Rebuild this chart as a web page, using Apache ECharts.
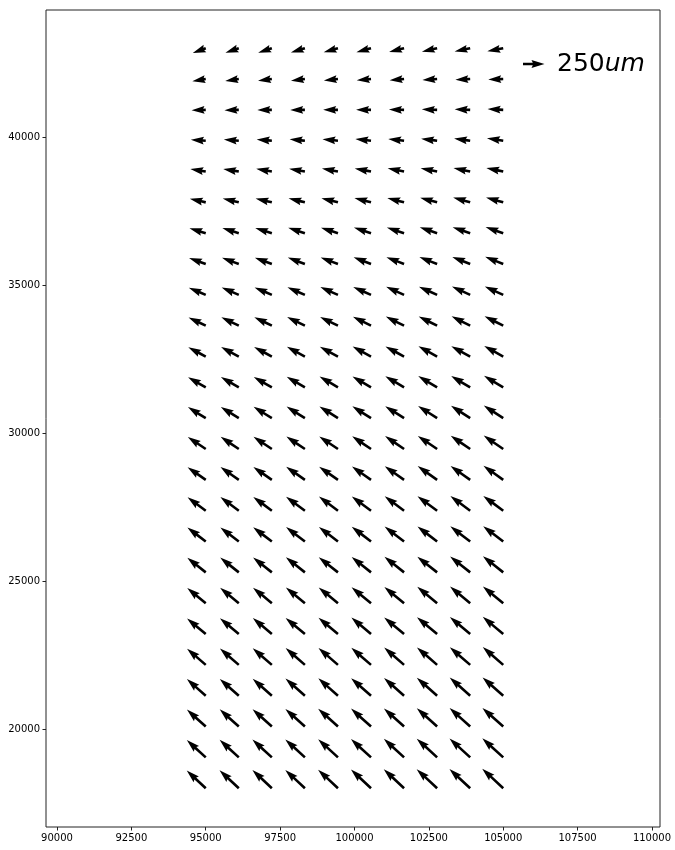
<!DOCTYPE html>
<html>
<head>
<meta charset="utf-8">
<script src="https://cdn.jsdelivr.net/npm/echarts@6/dist/echarts.min.js"></script>
<style>html,body{margin:0;padding:0;background:#fff;}#c{width:675px;height:850px;}</style>
</head>
<body>
<div id="c"></div>
<script>
// grid point coordinates
const xCols = [95000, 96111.1, 97222.2, 98333.3, 99444.4, 100555.6, 101666.7, 102777.8, 103888.9, 105000];
const yRows = [18000, 19041.7, 20083.3, 21125, 22166.7, 23208.3, 24250, 25291.7, 26333.3, 27375,
  28416.7, 29458.3, 30500, 31541.7, 32583.3, 33625, 34666.7, 35708.3, 36750, 37791.7,
  38833.3, 39875, 40916.7, 41958.3, 43000];
// east component (um), one row per yRows entry, bottom to top
const U = [
  [-221,-224,-226,-228,-231,-233,-236,-238,-241,-244],
  [-220,-223,-226,-228,-230,-233,-235,-237,-240,-243],
  [-219,-222,-224,-227,-230,-232,-234,-236,-239,-242],
  [-219,-221,-223,-226,-228,-231,-233,-236,-238,-240],
  [-217,-219,-222,-224,-226,-229,-231,-234,-236,-238],
  [-217,-219,-221,-224,-226,-228,-231,-234,-236,-238],
  [-215,-217,-219,-221,-224,-226,-229,-231,-234,-236],
  [-214,-216,-218,-221,-223,-225,-228,-230,-233,-236],
  [-213,-214,-217,-219,-221,-224,-226,-228,-231,-233],
  [-211,-214,-216,-219,-221,-223,-225,-228,-230,-232],
  [-211,-213,-215,-218,-219,-221,-224,-226,-228,-230],
  [-208,-211,-213,-215,-217,-219,-221,-224,-226,-227],
  [-207,-209,-212,-213,-215,-217,-219,-221,-223,-226],
  [-205,-208,-210,-211,-214,-215,-218,-220,-221,-224],
  [-203,-206,-207,-209,-211,-214,-216,-217,-220,-221],
  [-200,-203,-204,-207,-208,-210,-212,-214,-216,-217],
  [-197,-199,-201,-203,-205,-207,-208,-211,-212,-214],
  [-194,-195,-197,-199,-201,-202,-205,-206,-208,-210],
  [-189,-191,-193,-194,-197,-199,-200,-202,-204,-205],
  [-185,-187,-189,-190,-192,-193,-195,-197,-198,-200],
  [-179,-181,-182,-184,-186,-189,-191,-192,-194,-196],
  [-173,-174,-176,-178,-180,-182,-184,-186,-187,-189],
  [-165,-167,-169,-171,-172,-174,-176,-178,-180,-182],
  [-156,-158,-161,-162,-164,-166,-168,-171,-172,-174],
  [-151,-155,-159,-163,-166,-170,-174,-177,-181,-185]
];
// north component (um)
const V = [
  [206,209,211,213,216,218,220,222,224,227],
  [202,204,207,209,211,213,216,218,220,222],
  [197,200,202,204,207,209,211,213,215,217],
  [193,195,197,200,202,204,206,209,211,213],
  [188,190,193,195,197,199,201,203,205,207],
  [182,184,186,188,190,192,193,196,198,200],
  [177,179,181,183,184,186,189,191,193,195],
  [170,172,174,176,177,179,181,183,186,187],
  [163,164,166,168,170,172,174,175,177,179],
  [156,158,160,162,164,165,167,168,170,172],
  [147,149,151,153,154,156,158,160,162,164],
  [140,142,144,146,147,149,151,153,155,156],
  [129,131,133,135,137,139,140,143,144,147],
  [119,120,122,124,126,127,129,131,132,134],
  [108,110,111,113,114,116,118,120,121,123],
  [96,97,99,101,102,104,106,107,109,111],
  [84,85,87,88,90,91,93,94,96,98],
  [70,72,73,75,77,78,80,81,83,85],
  [58,59,61,62,64,65,66,68,69,71],
  [43,44,46,47,49,51,52,54,56,57],
  [28,30,31,33,34,36,37,38,40,42],
  [12,13,15,17,18,20,21,23,25,27],
  [-6,-4,-3,-1,1,2,4,6,8,9],
  [-25,-23,-21,-19,-17,-15,-13,-11,-8,-6],
  [-55,-53,-52,-50,-48,-46,-43,-41,-38,-36]
];
const xTicks = [90000, 92500, 95000, 97500, 100000, 102500, 105000, 107500, 110000];
const yTicks = [20000, 25000, 30000, 35000, 40000];
const keyValue = 250;
const keyUnit = 'um';

const pxPerUm = 21.5 / 250;
const SHAFT = 2.6;

function arrowPts(x0, y0, dx, dy) {
  const L = Math.hypot(dx, dy);
  if (L < 1e-6) return [[x0, y0]];
  let w = SHAFT, hl = 5 * w, hal = 4.5 * w, hw = 1.5 * w;
  if (L < hl) { const s = L / hl; w *= s; hl *= s; hal *= s; hw *= s; }
  const ux = dx / L, uy = dy / L, nx = -uy, ny = ux;
  const local = [[0, -w / 2], [L - hal, -w / 2], [L - hl, -hw], [L, 0], [L - hl, hw], [L - hal, w / 2], [0, w / 2]];
  return local.map(([a, b]) => [x0 + a * ux + b * nx, y0 + a * uy + b * ny]);
}

const data = [];
for (let r = 0; r < yRows.length; r++) {
  for (let c = 0; c < xCols.length; c++) {
    data.push([xCols[c], yRows[r], U[r][c], V[r][c]]);
  }
}

const chart = echarts.init(document.getElementById('c'), null, { renderer: 'canvas' });
const axisFont = { fontFamily: 'DejaVu Sans', fontSize: 10, color: '#000' };
const option = {
  animation: false,
  backgroundColor: '#fff',
  grid: { left: 46, top: 10, width: 614, height: 817, show: true, borderColor: '#222', borderWidth: 1, backgroundColor: 'transparent' },
  xAxis: {
    type: 'value', min: 89630, max: 110270,
    axisLine: { show: false },
    splitLine: { show: false },
    axisTick: { show: true, length: 3.5, lineStyle: { color: '#222' }, customValues: xTicks },
    axisLabel: Object.assign({ margin: 6, customValues: xTicks, formatter: v => String(v) }, axisFont)
  },
  yAxis: {
    type: 'value', min: 16690, max: 44290,
    axisLine: { show: false },
    splitLine: { show: false },
    axisTick: { show: true, length: 3.5, lineStyle: { color: '#222' }, customValues: yTicks },
    axisLabel: Object.assign({ margin: 6, customValues: yTicks, formatter: v => String(v) }, axisFont)
  },
  series: [{
    type: 'custom',
    data: data,
    encode: { x: 0, y: 1 },
    renderItem: function (params, api) {
      const p = api.coord([api.value(0), api.value(1)]);
      const pts = arrowPts(p[0], p[1], api.value(2) * pxPerUm, -api.value(3) * pxPerUm);
      return { type: 'polygon', shape: { points: pts }, style: { fill: '#000', stroke: null } };
    }
  }],
  graphic: [
    {
      type: 'polygon',
      shape: { points: arrowPts(523, 64, keyValue * pxPerUm, 0) },
      style: { fill: '#000' }
    },
    {
      type: 'text', left: 557, top: 52,
      style: {
        text: '{a|' + keyValue + '}{b|' + keyUnit + '}',
        rich: {
          a: { fontFamily: 'DejaVu Sans', fontSize: 25, fill: '#000' },
          b: { fontFamily: 'DejaVu Sans', fontSize: 25, fontStyle: 'italic', fill: '#000' }
        }
      }
    }
  ]
};
chart.setOption(option);
</script>
</body>
</html>
